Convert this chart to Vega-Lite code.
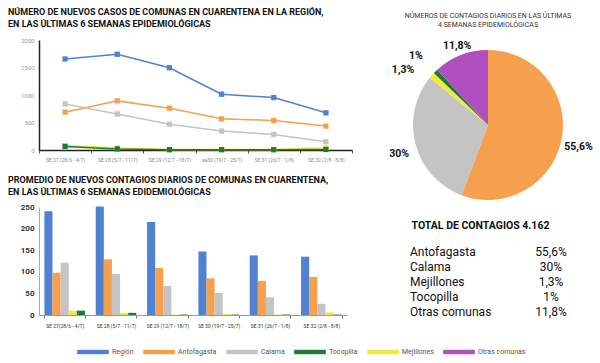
{
  "$schema": "https://vega.github.io/schema/vega-lite/v6.json",
  "background": "white",
  "padding": {"left": 8, "top": 8, "right": 2, "bottom": 2},
  "config": {
    "font": "Roboto",
    "view": {"stroke": null},
    "axis": {"title": null, "grid": false}
  },
  "datasets": {
    "lineas": [
      {"semana": "SE 27 (28/6 - 4/7)", "comuna": "Región", "casos": 1655},
      {"semana": "SE 28 (5/7 - 11/7)", "comuna": "Región", "casos": 1740},
      {"semana": "SE 29 (12/7 - 18/7)", "comuna": "Región", "casos": 1496},
      {"semana": "se30 (19/7 - 25/7)", "comuna": "Región", "casos": 1014},
      {"semana": "SE 31 (26/7 - 1/8)", "comuna": "Región", "casos": 953},
      {"semana": "SE 32 (2/8 - 8/8)", "comuna": "Región", "casos": 676},
      {"semana": "SE 27 (28/6 - 4/7)", "comuna": "Antofagasta", "casos": 688},
      {"semana": "SE 28 (5/7 - 11/7)", "comuna": "Antofagasta", "casos": 893},
      {"semana": "SE 29 (12/7 - 18/7)", "comuna": "Antofagasta", "casos": 761},
      {"semana": "se30 (19/7 - 25/7)", "comuna": "Antofagasta", "casos": 567},
      {"semana": "SE 31 (26/7 - 1/8)", "comuna": "Antofagasta", "casos": 536},
      {"semana": "SE 32 (2/8 - 8/8)", "comuna": "Antofagasta", "casos": 435},
      {"semana": "SE 27 (28/6 - 4/7)", "comuna": "Calama", "casos": 838},
      {"semana": "SE 28 (5/7 - 11/7)", "comuna": "Calama", "casos": 656},
      {"semana": "SE 29 (12/7 - 18/7)", "comuna": "Calama", "casos": 470},
      {"semana": "se30 (19/7 - 25/7)", "comuna": "Calama", "casos": 345},
      {"semana": "SE 31 (26/7 - 1/8)", "comuna": "Calama", "casos": 283},
      {"semana": "SE 32 (2/8 - 8/8)", "comuna": "Calama", "casos": 150},
      {"semana": "SE 27 (28/6 - 4/7)", "comuna": "Mejillones", "casos": 80},
      {"semana": "SE 28 (5/7 - 11/7)", "comuna": "Mejillones", "casos": 38},
      {"semana": "SE 29 (12/7 - 18/7)", "comuna": "Mejillones", "casos": 10},
      {"semana": "se30 (19/7 - 25/7)", "comuna": "Mejillones", "casos": 10},
      {"semana": "SE 31 (26/7 - 1/8)", "comuna": "Mejillones", "casos": 10},
      {"semana": "SE 32 (2/8 - 8/8)", "comuna": "Mejillones", "casos": 40},
      {"semana": "SE 27 (28/6 - 4/7)", "comuna": "Tocopilla", "casos": 65},
      {"semana": "SE 28 (5/7 - 11/7)", "comuna": "Tocopilla", "casos": 20},
      {"semana": "SE 29 (12/7 - 18/7)", "comuna": "Tocopilla", "casos": 5},
      {"semana": "se30 (19/7 - 25/7)", "comuna": "Tocopilla", "casos": 5},
      {"semana": "SE 31 (26/7 - 1/8)", "comuna": "Tocopilla", "casos": 5},
      {"semana": "SE 32 (2/8 - 8/8)", "comuna": "Tocopilla", "casos": 10}
    ],
    "barras": [
      {"semana": "SE 27(28/6 - 4/7)", "comuna": "Región", "promedio": 240},
      {"semana": "SE 28 (5/7 - 11/7)", "comuna": "Región", "promedio": 251},
      {"semana": "SE 29 (12/7 - 18/7)", "comuna": "Región", "promedio": 215},
      {"semana": "SE 30 (19/7 - 25/7)", "comuna": "Región", "promedio": 147},
      {"semana": "SE 31 (26/7 - 1/8)", "comuna": "Región", "promedio": 138},
      {"semana": "SE 32 (2/8 - 8/8)", "comuna": "Región", "promedio": 135},
      {"semana": "SE 27(28/6 - 4/7)", "comuna": "Antofagasta", "promedio": 98},
      {"semana": "SE 28 (5/7 - 11/7)", "comuna": "Antofagasta", "promedio": 129},
      {"semana": "SE 29 (12/7 - 18/7)", "comuna": "Antofagasta", "promedio": 109},
      {"semana": "SE 30 (19/7 - 25/7)", "comuna": "Antofagasta", "promedio": 85},
      {"semana": "SE 31 (26/7 - 1/8)", "comuna": "Antofagasta", "promedio": 79},
      {"semana": "SE 32 (2/8 - 8/8)", "comuna": "Antofagasta", "promedio": 88},
      {"semana": "SE 27(28/6 - 4/7)", "comuna": "Calama", "promedio": 121},
      {"semana": "SE 28 (5/7 - 11/7)", "comuna": "Calama", "promedio": 95},
      {"semana": "SE 29 (12/7 - 18/7)", "comuna": "Calama", "promedio": 67},
      {"semana": "SE 30 (19/7 - 25/7)", "comuna": "Calama", "promedio": 51},
      {"semana": "SE 31 (26/7 - 1/8)", "comuna": "Calama", "promedio": 41},
      {"semana": "SE 32 (2/8 - 8/8)", "comuna": "Calama", "promedio": 26},
      {"semana": "SE 27(28/6 - 4/7)", "comuna": "Mejillones", "promedio": 10},
      {"semana": "SE 28 (5/7 - 11/7)", "comuna": "Mejillones", "promedio": 5},
      {"semana": "SE 29 (12/7 - 18/7)", "comuna": "Mejillones", "promedio": 1},
      {"semana": "SE 30 (19/7 - 25/7)", "comuna": "Mejillones", "promedio": 2},
      {"semana": "SE 31 (26/7 - 1/8)", "comuna": "Mejillones", "promedio": 1},
      {"semana": "SE 32 (2/8 - 8/8)", "comuna": "Mejillones", "promedio": 6},
      {"semana": "SE 27(28/6 - 4/7)", "comuna": "Tocopilla", "promedio": 10},
      {"semana": "SE 28 (5/7 - 11/7)", "comuna": "Tocopilla", "promedio": 5},
      {"semana": "SE 29 (12/7 - 18/7)", "comuna": "Tocopilla", "promedio": 1},
      {"semana": "SE 30 (19/7 - 25/7)", "comuna": "Tocopilla", "promedio": 1},
      {"semana": "SE 31 (26/7 - 1/8)", "comuna": "Tocopilla", "promedio": 1},
      {"semana": "SE 32 (2/8 - 8/8)", "comuna": "Tocopilla", "promedio": 1}
    ],
    "torta": [
      {"comuna": "Antofagasta", "porcentaje": 55.6, "etiqueta": "55,6%", "orden": 1},
      {"comuna": "Calama", "porcentaje": 30, "etiqueta": "30%", "orden": 2},
      {"comuna": "Mejillones", "porcentaje": 1.3, "etiqueta": "1,3%", "orden": 3},
      {"comuna": "Tocopilla", "porcentaje": 1, "etiqueta": "1%", "orden": 4},
      {"comuna": "Otras comunas", "porcentaje": 11.8, "etiqueta": "11,8%", "orden": 5}
    ]
  },
  "spacing": 36,
  "hconcat": [
    {
      "spacing": 14,
      "vconcat": [
        {
          "title": {
            "text": ["NÚMERO DE NUEVOS CASOS DE COMUNAS EN CUARENTENA EN LA REGIÓN,", "EN LAS ÚLTIMAS 6 SEMANAS EPIDEMIOLÓGICAS"],
            "anchor": "start", "frame": "group", "dx": -31, "fontSize": 9, "fontWeight": "bold", "color": "#111", "lineHeight": 12, "offset": 8
          },
          "width": 313,
          "height": 110,
          "data": {"name": "lineas"},
          "mark": {"type": "line", "strokeWidth": 1.5, "point": {"shape": "square", "size": 28, "filled": true}},
          "encoding": {
            "x": {
              "field": "semana", "type": "nominal", "sort": null,
              "scale": {"type": "band", "paddingInner": 0, "paddingOuter": 0},
              "axis": {"labelAngle": 0, "labelFontSize": 5, "labelColor": "#888", "labelPadding": 4, "domainColor": "#222", "domainWidth": 1.5, "tickBand": "extent", "tickColor": "#555", "tickSize": 3}
            },
            "y": {
              "field": "casos", "type": "quantitative", "scale": {"domain": [0, 2000]},
              "axis": {"values": [0, 500, 1000, 1500, 2000], "format": "d", "ticks": false, "labelFontSize": 6, "labelColor": "#999", "labelPadding": 5, "domainColor": "#222", "domainWidth": 1.5}
            },
            "color": {
              "field": "comuna", "type": "nominal",
              "scale": {"domain": ["Región", "Antofagasta", "Calama", "Tocopilla", "Mejillones", "Otras comunas"], "range": ["#4f83d1", "#f6a04d", "#c4c4c4", "#1d7a36", "#f3e93a", "#b04fc0"]},
              "legend": {
                "orient": "none", "legendX": 38, "legendY": 296, "direction": "horizontal", "title": null,
                "symbolType": "M-1,-0.14H1V0.14H-1Z", "symbolSize": 1000, "symbolStrokeWidth": 0,
                "labelFontSize": 7, "labelColor": "#555", "columnPadding": 9, "labelOffset": 3
              }
            }
          }
        },
        {
          "title": {
            "text": ["PROMEDIO DE NUEVOS CONTAGIOS DIARIOS DE COMUNAS EN CUARENTENA,", "EN LAS ÚLTIMAS 6 SEMANAS EDIDEMIOLÓGICAS"],
            "anchor": "start", "frame": "group", "dx": -31, "fontSize": 9, "fontWeight": "bold", "color": "#111", "lineHeight": 12, "offset": 6
          },
          "width": 308,
          "height": 108,
          "data": {"name": "barras"},
          "mark": {"type": "bar"},
          "encoding": {
            "x": {
              "field": "semana", "type": "nominal", "sort": null,
              "scale": {"paddingInner": 0.21, "paddingOuter": 0.105},
              "axis": {"labelAngle": 0, "labelFontSize": 5, "labelColor": "#333", "labelPadding": 5, "domainColor": "#999", "tickBand": "extent", "tickColor": "#777", "tickSize": 3}
            },
            "xOffset": {"field": "comuna", "type": "nominal", "sort": ["Región", "Antofagasta", "Calama", "Mejillones", "Tocopilla"], "scale": {"paddingInner": 0}},
            "y": {
              "field": "promedio", "type": "quantitative", "scale": {"domain": [0, 250]},
              "axis": {"values": [0, 50, 100, 150, 200, 250], "ticks": false, "labelFontSize": 8, "labelFontWeight": "bold", "labelColor": "#333", "labelPadding": 5, "domainColor": "#aaa"}
            },
            "color": {
              "field": "comuna", "type": "nominal",
              "legend": {
                "orient": "none", "legendX": 38, "legendY": 296, "direction": "horizontal", "title": null,
                "symbolType": "M-1,-0.14H1V0.14H-1Z", "symbolSize": 1000, "symbolStrokeWidth": 0,
                "labelFontSize": 7, "labelColor": "#555", "columnPadding": 9, "labelOffset": 3
              }
            }
          }
        }
      ]
    },
    {
      "spacing": 10,
      "vconcat": [
        {
          "title": {
            "text": ["NÚMEROS DE CONTAGIOS DIARIOS EN LAS ÚLTIMAS", "4 SEMANAS EPIDEMIOLÓGICAS"],
            "anchor": "middle", "fontSize": 7, "fontWeight": "normal", "color": "#333", "lineHeight": 9.5, "offset": 11
          },
          "width": 156,
          "height": 170,
          "data": {"name": "torta"},
          "layer": [
            {
              "mark": {"type": "arc", "outerRadius": 75},
              "encoding": {
                "theta": {"field": "porcentaje", "type": "quantitative", "stack": true},
                "order": {"field": "orden", "type": "quantitative"},
                "color": {
                  "field": "comuna", "type": "nominal",
                  "legend": {
                    "orient": "none", "legendX": 38, "legendY": 296, "direction": "horizontal", "title": null,
                    "symbolType": "M-1,-0.14H1V0.14H-1Z", "symbolSize": 1000, "symbolStrokeWidth": 0,
                    "labelFontSize": 7, "labelColor": "#555", "columnPadding": 9, "labelOffset": 3
                  }
                }
              }
            },
            {
              "mark": {"type": "text", "radius": 92, "baseline": "top", "fontSize": 10.5, "fontWeight": "bold", "color": "#111"},
              "encoding": {
                "theta": {"field": "porcentaje", "type": "quantitative", "stack": true},
                "order": {"field": "orden", "type": "quantitative"},
                "text": {"condition": {"test": "datum.comuna !== 'Antofagasta' && datum.comuna !== 'Calama'", "value": ""}, "field": "etiqueta"}
              }
            },
            {
              "mark": {"type": "text", "radius": 85, "fontSize": 10.5, "fontWeight": "bold", "color": "#111"},
              "encoding": {
                "theta": {"field": "porcentaje", "type": "quantitative", "stack": true},
                "order": {"field": "orden", "type": "quantitative"},
                "text": {"condition": {"test": "datum.comuna !== 'Otras comunas'", "value": ""}, "field": "etiqueta"}
              }
            },
            {
              "transform": [
                {"stack": "porcentaje", "groupby": [], "sort": [{"field": "orden", "order": "ascending"}], "as": ["desde", "hasta"]},
                {"filter": "datum.comuna === 'Mejillones'"}
              ],
              "mark": {"type": "text", "radius": 95, "align": "right", "baseline": "top", "fontSize": 10.5, "fontWeight": "bold", "color": "#111"},
              "encoding": {
                "theta": {"field": "desde", "type": "quantitative", "stack": null},
                "text": {"field": "etiqueta"}
              }
            },
            {
              "transform": [
                {"stack": "porcentaje", "groupby": [], "sort": [{"field": "orden", "order": "ascending"}], "as": ["desde", "hasta"]},
                {"filter": "datum.comuna === 'Tocopilla'"}
              ],
              "mark": {"type": "text", "radius": 100, "fontSize": 10.5, "fontWeight": "bold", "color": "#111"},
              "encoding": {
                "theta": {"field": "desde", "type": "quantitative", "stack": null},
                "text": {"field": "etiqueta"}
              }
            }
          ]
        },
        {
          "title": {"text": "TOTAL DE CONTAGIOS 4.162", "anchor": "middle", "fontSize": 10.5, "fontWeight": "bold", "color": "#111", "offset": 13},
          "width": 141,
          "height": 75,
          "data": {"name": "torta"},
          "encoding": {"y": {"field": "comuna", "type": "nominal", "sort": null, "axis": null}},
          "layer": [
            {
              "mark": {"type": "text", "align": "left", "fontSize": 12, "color": "#111"},
              "encoding": {
                "x": {"datum": "nombre", "type": "nominal", "scale": {"type": "point", "domain": ["nombre", "valor"], "padding": 0}, "axis": null},
                "text": {"field": "comuna"}
              }
            },
            {
              "mark": {"type": "text", "align": "center", "fontSize": 12, "color": "#111"},
              "encoding": {
                "x": {"datum": "valor", "type": "nominal"},
                "text": {"field": "etiqueta"}
              }
            }
          ]
        }
      ]
    }
  ]
}
